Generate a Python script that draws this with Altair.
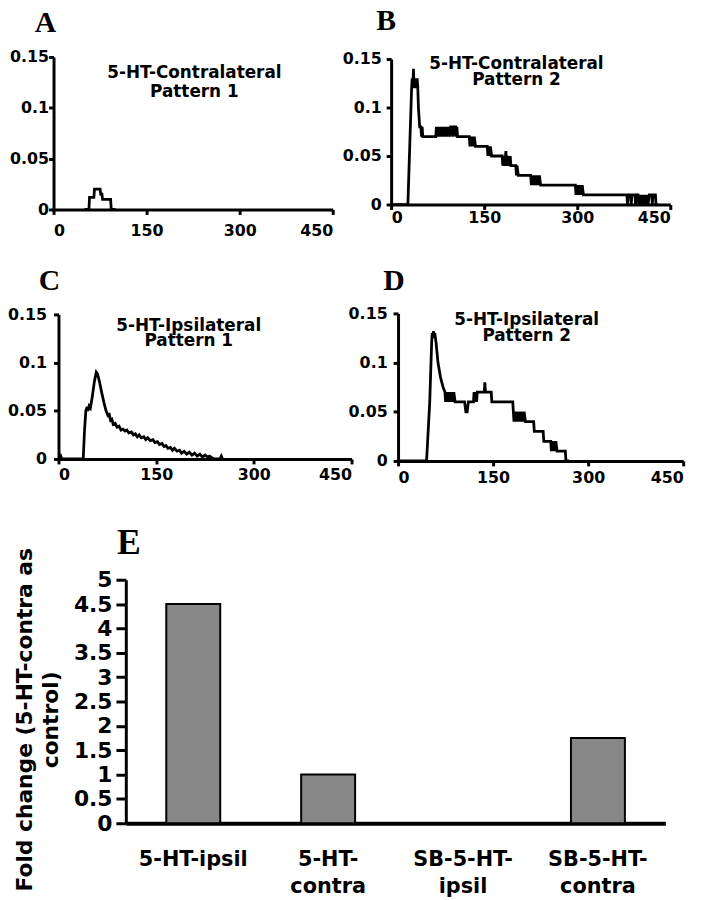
import altair as alt
import pandas as pd

# ---------------- data ----------------
# Panel A: 5-HT-Contralateral Pattern 1
a_x = [50, 57, 58, 65, 66, 75, 76, 78, 79, 92, 93, 100]
a_y = [0, 0, 0.012, 0.012, 0.02, 0.02, 0.015, 0.015, 0.01, 0.01, 0, 0]

# Panel B: 5-HT-Contralateral Pattern 2
b_x = [0, 27, 30, 33,
       34, 35, 36, 37, 38, 39, 40, 41, 42, 43,
       44, 45, 46, 48, 49, 50, 51,
       72, 73, 74, 75, 77, 78, 80, 81, 83, 84, 86, 87, 89, 90, 92, 93, 95, 96, 99, 100, 101, 104, 105, 106, 107,
       126, 127, 128, 130, 131, 133, 134, 136,
       155, 156, 157, 159, 160, 162,
       179, 180, 181, 183, 185, 186, 188, 190, 192, 193,
       201, 202, 203, 205,
       225, 226, 227, 229, 230, 232, 233, 235, 236, 238, 239, 241,
       297, 298, 299, 301, 302, 304, 305, 307, 308, 310,
       380, 381, 382, 386, 387, 388, 393, 394, 395, 398, 399, 400, 402, 404, 406, 408, 410, 412, 414, 416,
       420, 421, 422, 426, 427, 430]
b_y = [0, 0, 0.06, 0.12,
       0.13, 0.12, 0.14, 0.12, 0.13, 0.12, 0.13, 0.12, 0.13, 0.12,
       0.10, 0.09, 0.08, 0.08, 0.07, 0.08, 0.07,
       0.07, 0.08, 0.07, 0.08, 0.07, 0.08, 0.07, 0.08, 0.07, 0.08, 0.07, 0.08, 0.07, 0.08, 0.07, 0.08, 0.07,
       0.08, 0.08, 0.07, 0.08, 0.08, 0.07, 0.08, 0.07,
       0.07, 0.06, 0.07, 0.06, 0.07, 0.06, 0.07, 0.06,
       0.06, 0.05, 0.06, 0.05, 0.06, 0.05,
       0.05, 0.04, 0.05, 0.04, 0.055, 0.04, 0.05, 0.04, 0.05, 0.04,
       0.04, 0.03, 0.04, 0.03,
       0.03, 0.02, 0.03, 0.02, 0.03, 0.02, 0.03, 0.02, 0.03, 0.02, 0.03, 0.02,
       0.02, 0.01, 0.02, 0.01, 0.02, 0.01, 0.02, 0.01, 0.02, 0.01,
       0.01, 0, 0.01, 0.01, 0, 0.01, 0.01, 0, 0.01, 0.01, 0, 0.01, 0, 0.01, 0, 0.01, 0, 0.01, 0, 0.01,
       0.01, 0, 0.01, 0.01, 0, 0]

# Panel C: 5-HT-Ipsilateral Pattern 1
c_x = [0, 3, 5, 38, 40, 42, 44, 45, 47, 49, 52, 55, 58, 60, 63, 66, 70, 73, 76, 78, 80, 82, 84, 87,
       90, 93, 96, 99, 102, 105, 108, 112, 115, 118, 121, 124, 127, 131, 134, 137, 141, 145, 148,
       152, 155, 159, 162, 165, 168, 172, 175, 178, 182, 186, 189, 193, 197, 201, 205, 209, 213,
       217, 221, 225, 229, 232, 236, 240, 248, 250, 252]
c_y = [0.004, 0.004, 0, 0, 0.03, 0.05, 0.054, 0.05, 0.055, 0.053, 0.065, 0.08, 0.09, 0.088, 0.08,
       0.07, 0.058, 0.05, 0.045, 0.046, 0.04, 0.041, 0.036, 0.037,
       0.033, 0.034, 0.03, 0.031, 0.029, 0.03, 0.027, 0.028, 0.025, 0.026, 0.023, 0.025, 0.022,
       0.023, 0.02, 0.022, 0.019, 0.02, 0.017,
       0.018, 0.015, 0.016, 0.013, 0.014, 0.011, 0.012, 0.009, 0.011, 0.008, 0.009, 0.006, 0.008,
       0.005, 0.007, 0.004, 0.006, 0.003,
       0.005, 0.002, 0.004, 0.002, 0.003, 0.001, 0, 0, 0.003, 0]

# Panel D: 5-HT-Ipsilateral Pattern 2
d_x = [0, 45, 50, 53, 54, 55, 56, 57, 58, 60, 63, 67, 71, 74,
       75, 76, 78, 79, 81, 82, 84, 85, 87, 88, 90,
       105, 107, 109, 111, 119, 120, 121, 122, 124, 125,
       136, 137, 138, 147, 148,
       181, 182, 183, 184, 186, 187, 189, 190, 192, 193, 195, 196, 198, 199, 201,
       214, 215, 229, 230, 241, 242, 243, 245, 246, 248, 249, 251, 264, 265, 270]
d_y = [0, 0, 0.06, 0.12, 0.13, 0.125, 0.132, 0.125, 0.13, 0.12, 0.10, 0.085, 0.075, 0.07,
       0.06, 0.07, 0.06, 0.07, 0.06, 0.07, 0.06, 0.07, 0.06, 0.07, 0.06,
       0.06, 0.05, 0.05, 0.06, 0.06, 0.07, 0.06, 0.07, 0.06, 0.07,
       0.07, 0.08, 0.07, 0.07, 0.06,
       0.06, 0.05, 0.04, 0.05, 0.04, 0.05, 0.04, 0.05, 0.04, 0.05, 0.04, 0.05, 0.04, 0.05, 0.04,
       0.04, 0.03, 0.03, 0.02, 0.02, 0.01, 0.02, 0.01, 0.02, 0.01, 0.02, 0.01, 0.01, 0, 0]

x_ticks = [0, 150, 300, 450]
y_ticks = [0, 0.05, 0.1, 0.15]

panel_titles = {
    "A": ["5-HT-Contralateral", "Pattern 1"],
    "B": ["5-HT-Contralateral", "Pattern 2"],
    "C": ["5-HT-Ipsilateral", "Pattern 1"],
    "D": ["5-HT-Ipsilateral", "Pattern 2"],
}

# Panel E
e_categories = ["5-HT-ipsil", "5-HT-contra", "SB-5-HT-ipsil", "SB-5-HT-contra"]
e_values = [4.5, 1.0, 0.0, 1.75]
e_ticks = [0, 0.5, 1, 1.5, 2, 2.5, 3, 3.5, 4, 4.5, 5]
e_title = ["Fold change (5-HT-contra as", "control)"]

LABEL_FONT = "DejaVu Sans"
LETTER_FONT = "Liberation Serif"
W, H = 700, 892

# panel frames in chart pixels: (x_range, y_range), letter position
FRAMES = {
    "A": ([46, 328], [199, 45], (27, 20)),
    "B": ([387, 669], [194, 47], (372, 18)),
    "C": ([51, 347], [451, 305], (31, 280)),
    "D": ([394, 682], [453, 304], (379, 280)),
    "E": ([119, 664], [819, 573], (110, 547)),
}


def letter_layer(letter, pos, size=30):
    return alt.Chart(pd.DataFrame({"t": [letter]})).mark_text(
        font=LETTER_FONT, fontWeight="bold", fontSize=size, align="left",
        baseline="alphabetic", color="black"
    ).encode(text="t:N", x=alt.value(pos[0]), y=alt.value(pos[1]))


def line_panel(letter, xs, ys, tx, ty, lh, xpad, ypad):
    xr, yr, lpos = FRAMES[letter]
    df = pd.DataFrame({"x": xs, "y": ys, "i": list(range(len(xs)))})
    line = alt.Chart(df).mark_line(color="black", strokeWidth=2.8).encode(
        x=alt.X("x:Q", scale=alt.Scale(domain=[0, 450], range=xr, nice=False),
                axis=alt.Axis(orient="bottom", offset=yr[0] - H, values=x_ticks, title=None,
                              labelPadding=xpad, format="d")),
        y=alt.Y("y:Q", scale=alt.Scale(domain=[0, 0.15], range=yr, nice=False),
                axis=alt.Axis(orient="left", offset=-xr[0], values=y_ticks, title=None,
                              labelPadding=ypad, format=".2~f")),
        order=alt.Order("i:Q"),
    )
    tdf = pd.DataFrame({"x": [tx], "y": [ty], "t": ["\n".join(panel_titles[letter])]})
    text = alt.Chart(tdf).mark_text(
        font=LABEL_FONT, fontWeight="bold", fontSize=17, lineBreak="\n", lineHeight=lh,
        baseline="middle", align="center", color="black"
    ).encode(x="x:Q", y="y:Q", text="t:N")
    return alt.layer(line, text, letter_layer(letter, lpos))


A = line_panel("A", a_x, a_y, 227, 0.134, 19, 8, 0)
B = line_panel("B", b_x, b_y, 202, 0.1449, 16, 0, 5)
C = line_panel("C", c_x, c_y, 200, 0.1375, 15, 3, 7)
D = line_panel("D", d_x, d_y, 203, 0.1435, 16, 4, 6)

exr, eyr, elpos = FRAMES["E"]
edf = pd.DataFrame({"cat": e_categories, "val": e_values})
bars = alt.Chart(edf).mark_bar(color="#878787", stroke="black", strokeWidth=2).encode(
    x=alt.X("cat:N", sort=e_categories,
            scale=alt.Scale(paddingInner=0.6, paddingOuter=0.3, range=exr),
            axis=alt.Axis(orient="bottom", offset=eyr[0] - H, title=None, labelAngle=0,
                          ticks=False, labelFontSize=21, labelPadding=26, labelLineHeight=27,
                          domainWidth=4,
                          labelExpr="datum.value == '5-HT-ipsil' ? datum.value : "
                                    "[slice(datum.value, 0, indexof(datum.value, 'HT-') + 3), "
                                    "slice(datum.value, indexof(datum.value, 'HT-') + 3)]")),
    y=alt.Y("val:Q", scale=alt.Scale(domain=[0, 5], nice=False, range=eyr),
            axis=alt.Axis(orient="left", offset=-exr[0], values=e_ticks, format="~g",
                          title=e_title, labelFontSize=22, tickSize=10, labelPadding=4,
                          titleFontSize=22, titleFont=LABEL_FONT, titleFontWeight="bold",
                          titleLineHeight=26, titlePadding=11, titleY=714, titleColor="black")),
)
E = alt.layer(bars, letter_layer("E", elpos, 36))

chart = alt.layer(A, B, C, D, E).resolve_scale(
    x="independent", y="independent"
).properties(
    width=W, height=H, padding=0, autosize=alt.AutoSizeParams(type="none")
).configure_axis(
    domainColor="black", domainWidth=3, tickColor="black", tickWidth=3, tickSize=5,
    labelFont=LABEL_FONT, labelFontWeight="bold", labelFontSize=16, labelColor="black",
    grid=False,
).configure_view(stroke=None)

chart.save("out.html", embed_options={"renderer": "svg", "actions": False})
